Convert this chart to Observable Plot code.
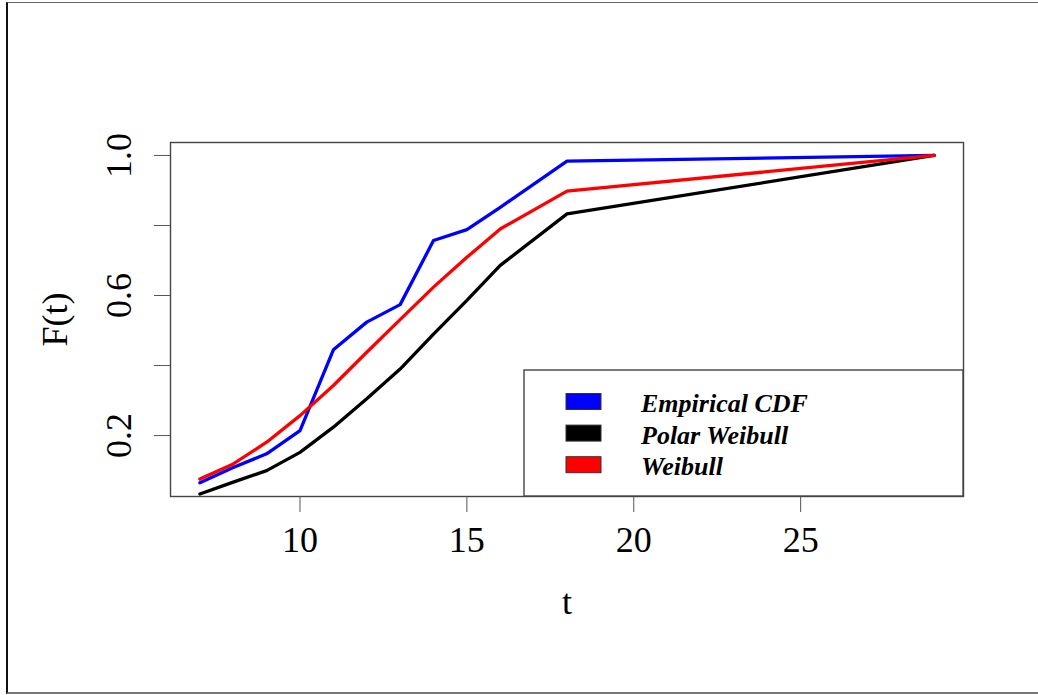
<!DOCTYPE html>
<html>
<head>
<meta charset="utf-8">
<script src="https://cdn.jsdelivr.net/npm/d3@7"></script>
<script src="https://cdn.jsdelivr.net/npm/@observablehq/plot@0.6"></script>
<style>
  html, body { margin: 0; padding: 0; background: #fff; overflow: hidden; }
  #wrap { position: relative; width: 1038px; height: 695px; }
  #wrap svg { position: absolute; left: 0; top: 0; }
  #border { position: absolute; left: 6px; top: 2px; width: 1100px; height: 689px;
            border-left: 2px solid #111; border-top: 1.5px solid #666; border-bottom: 2px solid #777;
            pointer-events: none; }
</style>
</head>
<body>
<div id="wrap"></div>
<script>
// ---- data ----
const tValues   = [7, 8, 9, 10, 11, 12, 13, 14, 15, 16, 18, 29];
const empirical = [0.065, 0.109, 0.148, 0.214, 0.445, 0.524, 0.574, 0.757, 0.788, 0.852, 0.984, 1.0];
const polarWeib = [0.033, 0.067, 0.100, 0.152, 0.224, 0.305, 0.390, 0.490, 0.586, 0.686, 0.833, 1.0];
const weibull   = [0.076, 0.119, 0.181, 0.257, 0.343, 0.438, 0.531, 0.624, 0.709, 0.790, 0.898, 1.0];
const seriesNames  = ["Empirical CDF", "Polar Weibull", "Weibull"];
const seriesColors = ["#0000FF", "#000000", "#FF0000"];
const xTicks = [10, 15, 20, 25];
const yTicks = [0.2, 0.4, 0.6, 0.8, 1.0];
const yTickLabels = [0.2, 0.6, 1.0];
const xLabel = "t";
const yLabel = "F(t)";

const seriesValues = [empirical, polarWeib, weibull];
const rows = [];
seriesNames.forEach((name, i) => {
  tValues.forEach((t, j) => rows.push({series: name, t, F: seriesValues[i][j]}));
});

const serif = "'Liberation Serif', 'Times New Roman', serif";

const chart = Plot.plot({
  width: 1038,
  height: 695,
  marginLeft: 170,
  marginRight: 75,
  marginTop: 142,
  marginBottom: 199,
  style: {fontFamily: serif, fontSize: "36px", color: "#000", background: "transparent"},
  x: {domain: [6.12, 29.88]},
  y: {domain: [0.026, 1.037]},
  color: {domain: seriesNames, range: seriesColors},
  marks: [
    Plot.frame({stroke: "#444", strokeWidth: 1.4}),
    Plot.axisX({ticks: xTicks, tickSize: 16, tickPadding: 14, stroke: "#555", fill: "#000",
                label: null, tickFormat: d => String(d)}),
    Plot.axisY({ticks: yTicks, tickSize: 16, stroke: "#555", label: null, tickFormat: () => ""}),
    Plot.text(yTickLabels, {y: d => d, text: d => d.toFixed(1), frameAnchor: "left", dx: -51,
                            rotate: -90, textAnchor: "middle", fontSize: 36, fill: "#000"}),
    Plot.text([xLabel], {text: d => d, frameAnchor: "bottom", dy: 117, textAnchor: "middle",
                         fontSize: 36, fill: "#000"}),
    Plot.text([yLabel], {text: d => d, frameAnchor: "left", dx: -115, rotate: -90, textAnchor: "middle",
                         fontSize: 36, fill: "#000"}),
    Plot.line(rows, {x: "t", y: "F", z: "series", stroke: "series", strokeWidth: 3.3,
                     strokeLinejoin: "round", strokeLinecap: "round"})
  ]
});

// ---- legend box (drawn into the same svg, bottom-right inside the plot frame) ----
const svg = d3.select(chart);
const lg = svg.append("g").attr("text-anchor", "start");
const boxL = 524, boxT = 370, boxR = 963, boxB = 496;
lg.append("rect").attr("x", boxL).attr("y", boxT).attr("width", boxR - boxL).attr("height", boxB - boxT)
  .attr("fill", "#fff").attr("stroke", "#444").attr("stroke-width", 1.4);
seriesNames.forEach((name, i) => {
  const cy = 401.5 + i * 31.6;
  lg.append("rect").attr("x", 566).attr("y", cy - 8).attr("width", 35).attr("height", 16)
    .attr("fill", seriesColors[i]).attr("stroke", "#333").attr("stroke-width", 1);
  lg.append("text").attr("x", 641).attr("y", cy + 10.5).text(name)
    .attr("text-anchor", "start")
    .attr("font-family", serif).attr("font-size", 26).attr("font-style", "italic")
    .attr("font-weight", "bold").attr("fill", "#000");
});

const wrap = document.getElementById("wrap");
wrap.appendChild(chart);
const border = document.createElement("div");
border.id = "border";
wrap.appendChild(border);
</script>
</body>
</html>
